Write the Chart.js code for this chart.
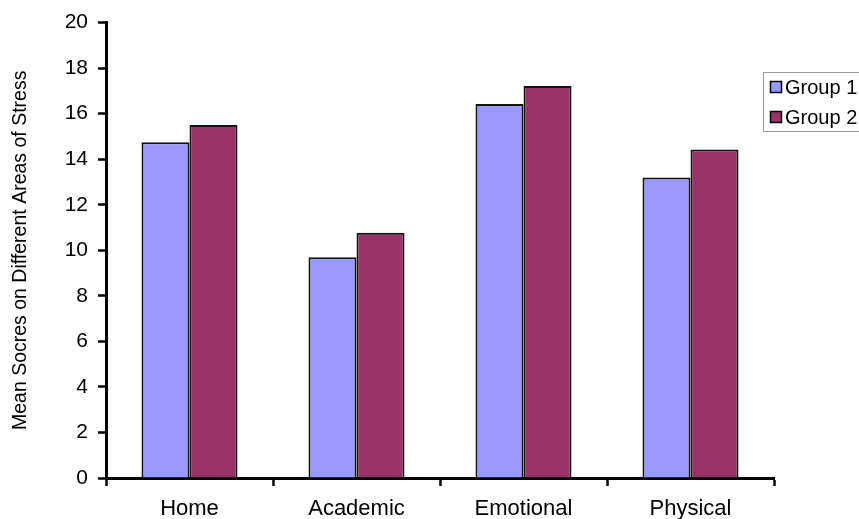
<!DOCTYPE html>
<html>
<head>
<meta charset="utf-8">
<script src="https://cdn.jsdelivr.net/npm/chart.js@4"></script>
<style>
  html, body { margin: 0; padding: 0; background: #fff; }
  #wrap { width: 859px; height: 519px; }
</style>
</head>
<body>
<div id="wrap"><canvas id="chart" width="859" height="519"></canvas></div>
<script>
const categories = ['Home', 'Academic', 'Emotional', 'Physical']
const group1 = [14.75, 9.7, 16.43, 13.2]
const group2 = [15.5, 10.77, 17.22, 14.43]
const seriesNames = ['Group 1', 'Group 2']
const yTicks = [0, 2, 4, 6, 8, 10, 12, 14, 16, 18, 20]
const yTitle = 'Mean Socres on Different Areas of Stress'

const FONT = "'Liberation Sans', Arial, sans-serif"

// boxed legend that sits over the right end of the plot, like the original
const boxLegend = {
  id: 'boxLegend',
  afterDraw(chart) {
    const ctx = chart.ctx
    ctx.save()
    ctx.strokeStyle = '#9a9a9a'
    ctx.lineWidth = 1
    ctx.fillStyle = '#fff'
    ctx.fillRect(763.5, 72.5, 100, 59)
    ctx.strokeRect(763.5, 72.5, 100, 59)
    chart.data.datasets.forEach((ds, i) => {
      const y = 87 + i * 30
      ctx.fillStyle = ds.backgroundColor
      ctx.fillRect(770.5, y - 5.5, 11, 11)
      ctx.strokeStyle = '#000'
      ctx.lineWidth = 1.5
      ctx.strokeRect(770.5, y - 5.5, 11, 11)
      ctx.fillStyle = '#000'
      ctx.font = `20px ${FONT}`
      ctx.textBaseline = 'middle'
      ctx.fillText(ds.label, 785, y + 1)
    })
    ctx.restore()
  },
}

new Chart(document.getElementById('chart'), {
  type: 'bar',
  data: {
    labels: categories,
    datasets: [
      {
        label: seriesNames[0],
        data: group1,
        backgroundColor: '#9999ff',
        borderColor: '#111',
        borderWidth: 2,
      },
      {
        label: seriesNames[1],
        data: group2,
        backgroundColor: '#993366',
        borderColor: '#111',
        borderWidth: 2,
      },
    ],
  },
  options: {
    responsive: false,
    animation: false,
    layout: { padding: { top: 22, right: 85, left: 0, bottom: 0 } },
    datasets: {
      bar: { categoryPercentage: 0.575, barPercentage: 1 },
    },
    plugins: {
      legend: { display: false },
      tooltip: { enabled: false },
    },
    scales: {
      x: {
        afterFit: (s) => { s.height = 41 },
        grid: {
          drawOnChartArea: false,
          drawTicks: true,
          tickLength: 8,
          tickWidth: 2.5,
          color: '#000',
        },
        border: { color: '#000', width: 3 },
        ticks: {
          color: '#000',
          padding: 10,
          font: { family: FONT, size: 22 },
          maxRotation: 0,
        },
      },
      y: {
        min: 0,
        max: 20,
        afterFit: (s) => { s.width = 106 },
        afterBuildTicks: (s) => { s.ticks = yTicks.map((v) => ({ value: v })) },
        grid: {
          drawOnChartArea: false,
          drawTicks: true,
          tickLength: 8,
          tickWidth: 2.5,
          color: '#000',
        },
        border: { color: '#000', width: 3 },
        ticks: {
          color: '#000',
          padding: 10,
          font: { family: FONT, size: 21 },
        },
        title: {
          display: true,
          text: yTitle,
          color: '#000',
          font: { family: FONT, size: 19.5 },
          padding: { top: 9, bottom: 0 },
        },
      },
    },
  },
  plugins: [boxLegend],
})
</script>
</body>
</html>
